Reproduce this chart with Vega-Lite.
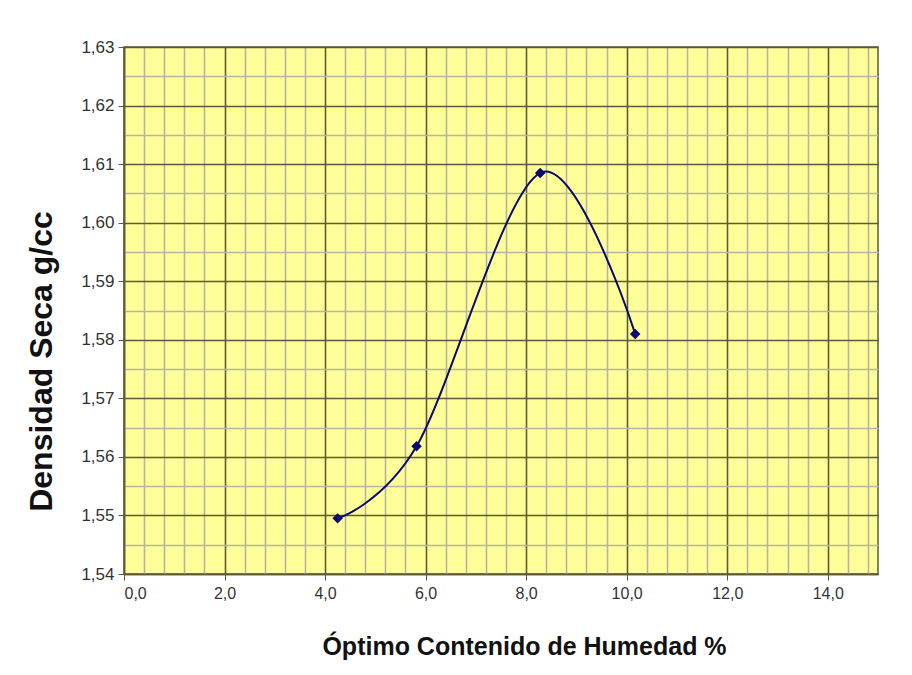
{
  "$schema": "https://vega.github.io/schema/vega-lite/v6.json",
  "width": 754,
  "height": 527,
  "autosize": "none",
  "padding": {"left": 124, "top": 47, "right": 34, "bottom": 101},
  "background": "white",
  "config": {
    "view": {"fill": "#ffff99", "stroke": "#5e5a35", "strokeWidth": 1.5},
    "axis": {"labelFont": "Liberation Sans", "titleFont": "Liberation Sans", "labelColor": "#333333", "titleColor": "#111111"}
  },
  "data": {
    "values": [
      {"humedad": 4.25, "densidad": 1.5495},
      {"humedad": 5.82, "densidad": 1.5618},
      {"humedad": 8.28, "densidad": 1.6085},
      {"humedad": 10.17, "densidad": 1.5810}
    ]
  },
  "resolve": {"axis": {"x": "independent", "y": "independent"}},
  "layer": [
    {
      "mark": {"type": "line", "interpolate": "cardinal", "color": "#0a0a6e", "strokeWidth": 2},
      "encoding": {
        "x": {"field": "humedad", "type": "quantitative", "scale": {"domain": [0, 15], "nice": false, "zero": false},
          "axis": {"orient": "bottom", "values": [0.4, 0.8, 1.2, 1.6, 2.4, 2.8, 3.2, 3.6, 4.4, 4.8, 5.2, 5.6, 6.4, 6.8, 7.2, 7.6, 8.4, 8.8, 9.2, 9.6, 10.4, 10.8, 11.2, 11.6, 12.4, 12.8, 13.2, 13.6, 14.4, 14.8],
            "grid": true, "gridColor": "#b9b4a0", "gridWidth": 1.6, "gridOpacity": 1, "labels": false, "ticks": false, "domain": false, "title": null}},
        "y": {"field": "densidad", "type": "quantitative", "scale": {"domain": [1.54, 1.63], "nice": false, "zero": false},
          "axis": {"orient": "left", "values": [1.545, 1.555, 1.565, 1.575, 1.585, 1.595, 1.605, 1.615, 1.625],
            "grid": true, "gridColor": "#b9b4a0", "gridWidth": 1.6, "gridOpacity": 1, "labels": false, "ticks": false, "domain": false, "title": null}}
      }
    },
    {
      "mark": {"type": "point", "shape": "diamond", "filled": true, "color": "#0a0a6e", "size": 110, "opacity": 1},
      "encoding": {
        "x": {"field": "humedad", "type": "quantitative", "scale": {"domain": [0, 15], "nice": false, "zero": false},
          "axis": {"orient": "bottom", "values": [0, 2, 4, 6, 8, 10, 12, 14],
            "grid": true, "gridColor": "#5e5a35", "gridWidth": 1.6, "gridOpacity": 1,
            "labelExpr": "replace(format(datum.value, '.1f'), '.', ',')", "labelFontSize": 16, "labelPadding": 5,
            "ticks": true, "tickColor": "#5e5a35", "tickSize": 6, "domain": true, "domainColor": "#5e5a35", "domainWidth": 1.5,
            "title": "Óptimo Contenido de Humedad %", "titleFontSize": 25, "titleFontWeight": "bold", "titlePadding": 33, "titleX": 400}},
        "y": {"field": "densidad", "type": "quantitative", "scale": {"domain": [1.54, 1.63], "nice": false, "zero": false},
          "axis": {"orient": "left", "values": [1.54, 1.55, 1.56, 1.57, 1.58, 1.59, 1.6, 1.61, 1.62, 1.63],
            "grid": true, "gridColor": "#5e5a35", "gridWidth": 1.6, "gridOpacity": 1,
            "labelExpr": "replace(format(datum.value, '.2f'), '.', ',')", "labelFontSize": 17, "labelPadding": 4,
            "ticks": true, "tickColor": "#5e5a35", "tickSize": 6, "domain": true, "domainColor": "#5e5a35", "domainWidth": 1.5,
            "title": "Densidad Seca g/cc", "titleFontSize": 32, "titleFontWeight": "bold", "titlePadding": 22, "titleY": 314}}
      }
    }
  ]
}
